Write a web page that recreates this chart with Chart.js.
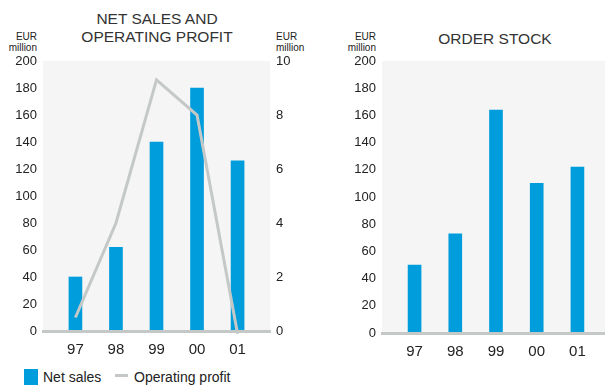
<!DOCTYPE html>
<html>
<head>
<meta charset="utf-8">
<script src="https://cdn.jsdelivr.net/npm/chart.js@4.4.1/dist/chart.umd.min.js"></script>
<style>
  html, body { margin: 0; padding: 0; background: #fff; }
  body { width: 605px; height: 385px; overflow: hidden; position: relative; font-family: "Liberation Sans", Arial, sans-serif; color: #222; }
  canvas { position: absolute; top: 0; }
  #salesChart { left: 0; }
  #orderChart { left: 330px; }
  .title { position: absolute; text-align: center; font-size: 15.5px; line-height: 18px; color: #333; width: 240px; }
  .unit { position: absolute; font-size: 10px; line-height: 11px; color: #222; width: 60px; }
  .unit.r { text-align: right; }
  .legend { position: absolute; font-size: 14px; line-height: 16px; color: #222; }
  .swatch { position: absolute; }
</style>
</head>
<body>
<div class="title" style="left:37px; top:10px;">NET SALES AND<br>OPERATING PROFIT</div>
<div class="title" style="left:375px; top:30px;">ORDER STOCK</div>

<div class="unit r" style="left:-23px; top:31px;">EUR<br>million</div>
<div class="unit" style="left:276px; top:31px;">EUR<br>million</div>
<div class="unit r" style="left:316px; top:31px;">EUR<br>million</div>

<canvas id="salesChart" width="310" height="360"></canvas>
<canvas id="orderChart" width="280" height="360"></canvas>

<div class="swatch" style="left:24px; top:369px; width:14px; height:16px; background:#009ddc;"></div>
<div class="legend" style="left:43px; top:369px;">Net sales</div>
<div class="swatch" style="left:115px; top:374px; width:13px; height:3px; background:#c4c9c8;"></div>
<div class="legend" style="left:134px; top:369px;">Operating profit</div>

<script>
// figures in EUR million
const years = ['97', '98', '99', '00', '01'];
const netSales = [40, 62, 140, 180, 126];
const operatingProfit = [0.5, 4.0, 9.3, 8.0, -0.1];
const orderStock = [50, 73, 164, 110, 122];
const salesTicks = [0, 20, 40, 60, 80, 100, 120, 140, 160, 180, 200];
const profitTicks = [0, 2, 4, 6, 8, 10];

const BLUE = '#009ddc';
const GREY = '#c4c9c8';
const tickFont = { family: '"Liberation Sans", Arial, sans-serif', size: 13 };
const yearFont = { family: '"Liberation Sans", Arial, sans-serif', size: 15 };

// light grey panel behind the plot area
const plotBg = {
  id: 'plotBg',
  beforeDraw(chart) {
    const { ctx, chartArea: a } = chart;
    ctx.save();
    ctx.fillStyle = '#f5f5f5';
    ctx.fillRect(a.left, a.top, a.right - a.left, a.bottom - a.top);
    ctx.restore();
  }
};

const points = (vals) => vals.map((v, i) => ({ x: i, y: v }));

function yearAxis(h) {
  return {
    type: 'linear',
    min: -0.8,
    max: 4.8,
    offset: false,
    grid: { display: false, drawTicks: false },
    border: { display: true, color: GREY, width: 3, z: 1 },
    ticks: {
      stepSize: 1,
      includeBounds: false,
      padding: 10,
      color: '#222',
      font: yearFont,
      callback: (v) => years[v] ?? ''
    },
    afterFit: (s) => { s.height = h; }
  };
}

function valueAxis(ticks, pos, w) {
  return {
    type: 'linear',
    position: pos,
    min: ticks[0],
    max: ticks[ticks.length - 1],
    grid: { display: false, drawTicks: false },
    border: { display: false },
    afterBuildTicks: (s) => { s.ticks = ticks.map((v) => ({ value: v })); },
    ticks: { padding: 6, color: '#222', font: tickFont },
    afterFit: (s) => { s.width = w; }
  };
}

const base = {
  responsive: false,
  devicePixelRatio: 1,
  animation: false,
  layout: { padding: { top: 61, left: 0, right: 0, bottom: 0 } },
  plugins: { legend: { display: false }, tooltip: { enabled: false } }
};

new Chart(document.getElementById('salesChart'), {
  type: 'bar',
  data: {
    datasets: [
      {
        type: 'line',
        label: 'Operating profit',
        data: points(operatingProfit),
        yAxisID: 'y2',
        borderColor: GREY,
        borderWidth: 3,
        pointRadius: 0,
        tension: 0,
        clip: false,
        order: 1
      },
      {
        type: 'bar',
        label: 'Net sales',
        data: points(netSales),
        yAxisID: 'y',
        backgroundColor: BLUE,
        barThickness: 13,
        order: 2
      }
    ]
  },
  options: {
    ...base,
    scales: {
      x: yearAxis(29),
      y: valueAxis(salesTicks, 'left', 43),
      y2: valueAxis(profitTicks, 'right', 40)
    }
  },
  plugins: [plotBg]
});

new Chart(document.getElementById('orderChart'), {
  type: 'bar',
  data: {
    datasets: [{
      label: 'Order stock',
      data: points(orderStock),
      backgroundColor: BLUE,
      barThickness: 13
    }]
  },
  options: {
    ...base,
    scales: {
      x: yearAxis(27),
      y: valueAxis(salesTicks, 'left', 52)
    }
  },
  plugins: [plotBg]
});
</script>
</body>
</html>
